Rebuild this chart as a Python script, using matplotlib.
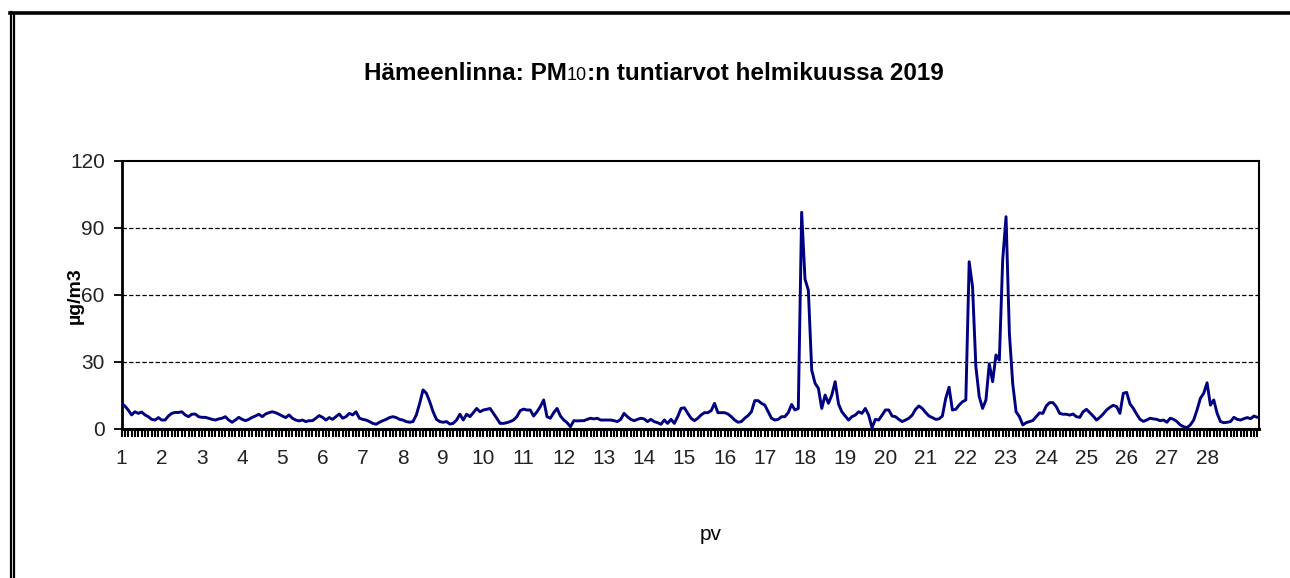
import numpy as np
import matplotlib
matplotlib.use("Agg")
import matplotlib.pyplot as plt
from matplotlib.lines import Line2D

# ---- data: hourly PM10 (µg/m3), read every 2 hours, Feb 2019 ----
seg_days01_05 = [11.3, 10.1, 8.3, 6.1, 7.5, 6.8, 7.4, 6.1, 5.3, 4.1,
                 3.8, 4.9, 3.8, 3.8, 5.6, 6.8, 7.2, 7.2, 7.5, 6.1,
                 5.3, 6.4, 6.5, 5.3, 5.0, 5.0, 4.6, 4.1, 3.8, 4.3,
                 4.6, 5.3, 3.8, 2.8, 3.8, 5.0, 4.1, 3.5, 4.1, 5.0,
                 5.6, 6.4, 5.3, 6.5, 7.1, 7.5, 7.1, 6.4, 5.6, 4.9,
                 6.1, 4.6, 3.8, 3.4, 3.8, 3.1, 3.5]
seg_days05_10 = [3.5, 4.6, 5.8, 5.0, 3.8, 4.9, 4.1, 5.3, 6.5, 4.6,
                 5.3, 6.8, 6.1, 7.5, 4.6, 4.1, 3.8, 3.1, 2.3, 1.9,
                 2.8, 3.5, 4.1, 4.9, 5.3, 4.9, 4.1, 3.8, 3.1, 2.8,
                 3.1, 6.1, 11.3, 17.3, 15.8, 12.0, 7.5, 4.1, 3.1, 2.8,
                 3.1, 2.0, 2.3, 3.8, 6.4, 3.8, 6.4, 5.3, 7.1, 9.0,
                 7.5, 8.3, 8.6, 9.0, 6.8, 4.6, 2.3]
seg_days10_15 = [2.3, 2.6, 3.1, 3.8, 5.3, 8.0, 8.7, 8.3, 8.3, 5.6,
                 7.5, 9.8, 12.8, 5.3, 4.6, 7.1, 9.0, 5.6, 3.8, 2.6,
                 0.8, 3.5, 3.4, 3.5, 3.5, 4.1, 4.6, 4.3, 4.6, 3.8,
                 3.8, 3.8, 3.8, 3.5, 3.1, 4.1, 6.8, 5.3, 4.1, 3.5,
                 4.1, 4.6, 4.3, 3.1, 4.1, 3.1, 2.6, 1.9, 3.8, 2.3,
                 4.1, 2.3, 5.3, 9.0, 9.3, 6.8, 4.6]
seg_days15_17 = [3.5, 4.6, 6.1, 7.1, 7.1, 8.0, 11.3, 7.1, 7.1, 7.1,
                 6.5, 5.3, 3.8, 2.8, 3.1, 4.6, 5.8, 7.5, 12.5, 12.5,
                 11.3, 10.5, 7.5, 4.6, 3.8, 4.1, 5.3, 5.3, 7.1, 10.8,
                 8.3, 9.0]
seg_days17_20 = [97.0, 67.0, 62.0, 26.2, 20.3, 18.0, 9.0, 15.0, 11.3, 15.0,
                 21.0, 11.0, 7.5, 5.6, 3.8, 5.3, 6.0, 7.5, 6.8, 9.0,
                 6.0, 0.3, 4.1, 3.8, 6.0, 8.3, 8.3, 5.6, 5.3, 4.1]
seg_days20_23 = [3.1, 3.8, 4.6, 6.0, 8.6, 10.1, 9.0, 7.2, 5.6, 4.9,
                 4.1, 4.3, 5.6, 13.5, 18.5, 8.3, 8.6, 10.5, 12.0, 12.8,
                 74.8, 63.6, 27.7, 14.3, 9.0, 12.8, 29.0, 21.0, 33.0, 30.7,
                 75.6, 95.0, 42.7, 20.0, 7.5, 5.3]
seg_days23_29 = [1.6, 2.6, 3.1, 3.6, 5.3, 7.0, 6.8, 10.1, 11.6, 11.6,
                 9.8, 6.8, 6.4, 6.4, 6.0, 6.5, 5.3, 5.0, 7.5, 8.6,
                 7.1, 5.6, 3.8, 5.0, 6.5, 8.3, 9.5, 10.4, 9.8, 6.8,
                 15.8, 16.2, 11.0, 9.0, 6.4, 4.1, 3.2, 3.8, 4.6, 4.3,
                 4.1, 3.5, 3.8, 2.8, 4.6, 4.1, 3.1, 1.6, 0.8, 0.4,
                 1.6, 3.8, 8.3, 13.5, 15.8, 20.5, 10.5, 12.8, 6.8, 3.1,
                 2.6, 2.8, 3.1, 5.0, 4.1, 3.8, 4.4, 4.9, 4.4, 5.6, 5.0]

day_labels = [str(d) for d in range(1, 29)]
y_ticks = [0, 30, 60, 90, 120]
title_a = "Hämeenlinna: PM"
title_sub = "10"
title_b = ":n tuntiarvot helmikuussa 2019"
y_label = "µg/m3"
x_label = "pv"

values = np.array(seg_days01_05 + seg_days05_10 + seg_days10_15 + seg_days15_17
                  + seg_days17_20 + seg_days20_23 + seg_days23_29)
hours = np.arange(len(values)) * 2

plt.rcParams['font.family'] = ['Liberation Sans', 'DejaVu Sans']

W, H = 1290, 578
fig = plt.figure(figsize=(W / 100, H / 100), dpi=100)
ax = fig.add_axes([121.5 / W, 1 - 428.5 / H, (1259 - 121.5) / W, (428.5 - 161) / H])

for g in (30, 60, 90):
    ax.axhline(g, color='black', lw=0.9, dashes=(3.5, 1.8), zorder=1)

ax.plot(hours, values, color='#000080', lw=2.1, zorder=3,
        solid_joinstyle='round', solid_capstyle='round')

ax.set_xlim(0, 679)
ax.set_ylim(0, 120)
ax.set_yticks(y_ticks)
ax.set_yticklabels([str(v) for v in y_ticks])
ax.set_xticks([24 * i for i in range(len(day_labels))])
ax.set_xticklabels(day_labels)
ax.set_xticks(np.arange(0, 680, 2), minor=True)

ax.tick_params(axis='x', which='both', direction='out', length=5.5, width=1.5,
               color='black', labelsize=15, pad=9)
ax.tick_params(axis='y', which='major', direction='out', length=6, width=1.3,
               labelsize=15, pad=6)
for lab in ax.get_xticklabels() + ax.get_yticklabels():
    lab.set_color('#222222')
for s in ax.spines.values():
    s.set_linewidth(1.5)
    s.set_color('black')
ax.spines['left'].set_linewidth(2.0)
ax.spines['bottom'].set_linewidth(2.2)

fig.text(75 / W, 1 - 296 / H, y_label, rotation=90, ha='center', va='center',
         fontsize=14, fontweight='bold')
fig.text(711 / W, 1 - 535 / H, x_label, ha='center', va='center', fontsize=15)

# title with smaller non-bold "10"
fig.canvas.draw()
r = fig.canvas.get_renderer()
base_y = 1 - 80 / H
ta = fig.text(0, base_y, title_a, fontsize=17.5, fontweight='bold', va='baseline')
ts = fig.text(0, base_y, title_sub, fontsize=13, va='baseline')
tb = fig.text(0, base_y, title_b, fontsize=17.5, fontweight='bold', va='baseline')
wa = ta.get_window_extent(r).width
ws = ts.get_window_extent(r).width
wb = tb.get_window_extent(r).width
total = wa + ws + wb
x0 = 654 - total / 2
ta.set_x(x0 / W)
ts.set_x((x0 + wa) / W)
tb.set_x((x0 + wa + ws) / W)

# figure frame: top line and double left line
fig.add_artist(Line2D([10 / W, 1.0], [1 - 13.3 / H, 1 - 13.3 / H], color='black', lw=2.6,
                      transform=fig.transFigure))
fig.add_artist(Line2D([10.5 / W, 10.5 / W], [0, 1 - 11.8 / H], color='black', lw=1.6,
                      transform=fig.transFigure))
fig.add_artist(Line2D([14.3 / W, 14.3 / W], [0, 1 - 13.3 / H], color='black', lw=1.6,
                      transform=fig.transFigure))

fig.savefig('out.png', dpi=100)
